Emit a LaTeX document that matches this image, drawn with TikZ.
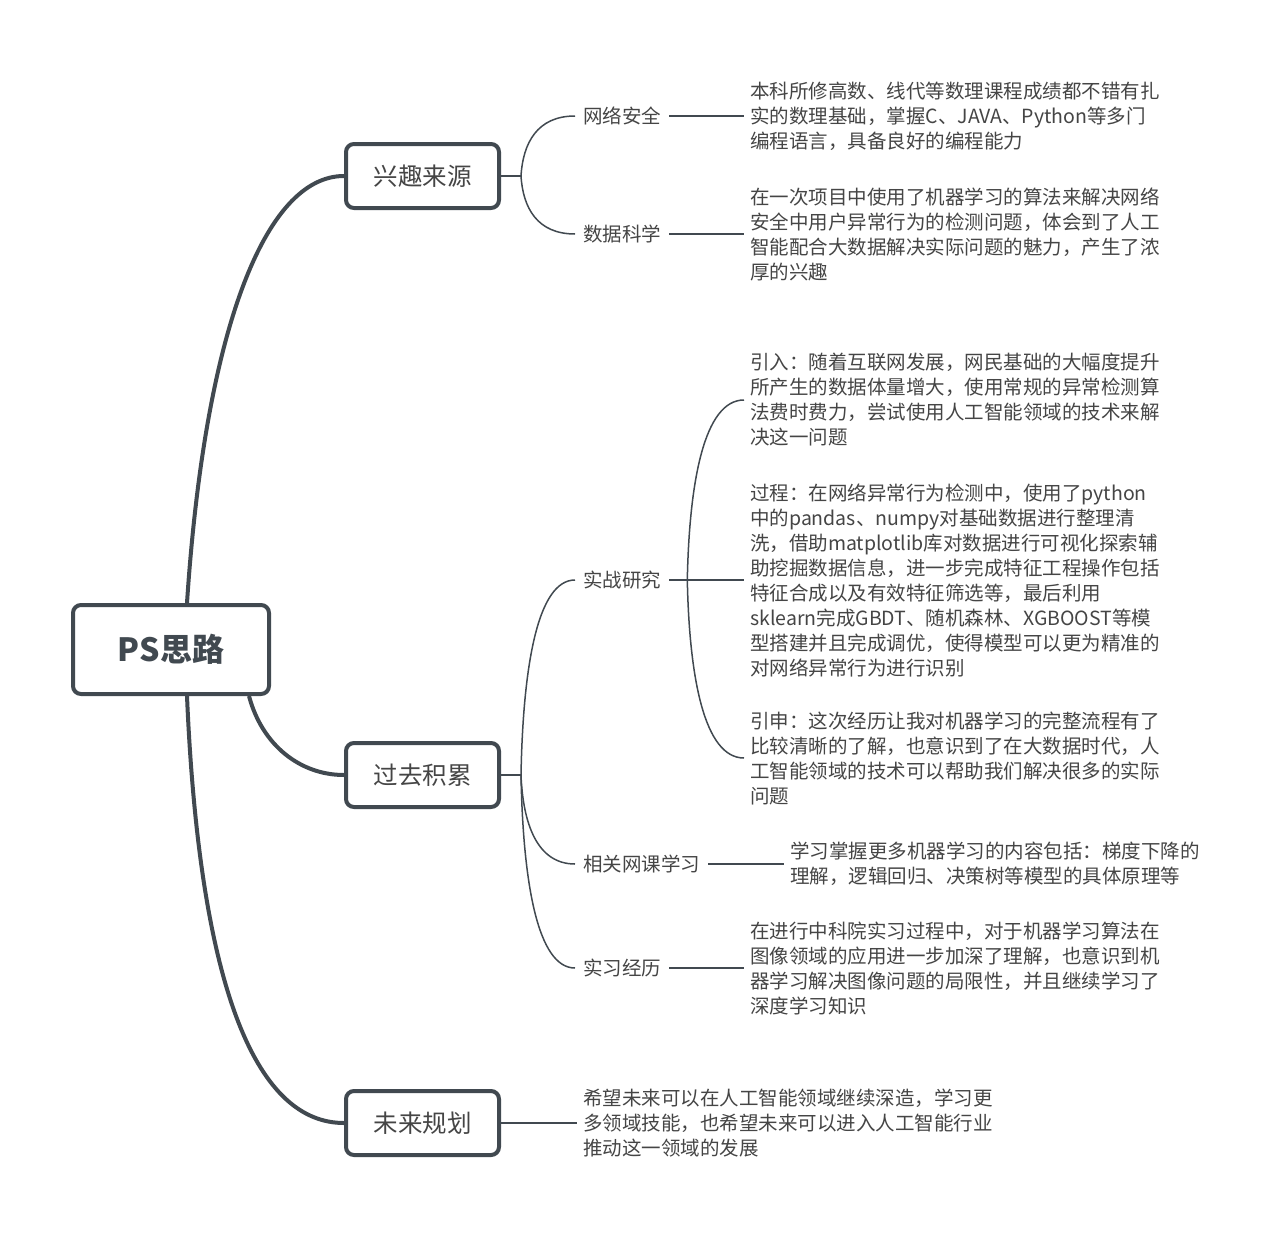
\documentclass[tikz,border=0pt]{standalone}
\usepackage{fontspec}
\setmainfont{Noto Sans CJK SC}
\usetikzlibrary{calc}
\definecolor{ink}{HTML}{414950}
\definecolor{txt}{HTML}{454545}
\newcommand\mmfan[2]{\draw[sublink] let \p1=(#1), \p2=(#2) in (\p1) .. controls (\x1+2pt,{\y1+0.55*(\y2-\y1)}) and ({\x1+0.3*(\x2-\x1)},\y2) .. (\p2);}
\begin{document}
\begin{tikzpicture}[x=1pt,y=-1pt,
  rootbox/.style={draw=ink, line width=4pt, rounded corners=8pt, fill=white, minimum width=196pt, minimum height=89pt, inner sep=0pt, text=ink, font=\fontsize{32}{38}\selectfont\bfseries},
  topicbox/.style={draw=ink, line width=4pt, rounded corners=8pt, fill=white, minimum width=153pt, minimum height=64pt, inner sep=0pt, text=txt, font=\fontsize{24.5}{30}\selectfont},
  sublabel/.style={anchor=west, inner xsep=8pt, inner ysep=0pt, text=txt, font=\fontsize{19.5}{25}\selectfont},
  leaftext/.style={anchor=west, align=left, inner xsep=6pt, inner ysep=0pt, text=txt, font=\fontsize{19.5}{25}\selectfont},
  mainlink/.style={draw=ink, line width=4pt},
  sublink/.style={draw=ink, line width=1.5pt},
]
\useasboundingbox[fill=white] (0,0) rectangle (1280,1239);

% root and topics
\node[rootbox] (r) at (171,649.5) {PS思路};
\node[topicbox] (b1) at (422.5,176) {兴趣来源};
\node[topicbox] (b2) at (422.5,775) {过去积累};
\node[topicbox] (b3) at (422.5,1123) {未来规划};

% sub labels
\node[sublabel] (l11) at (575,116) {网络安全};
\node[sublabel] (l12) at (575,234) {数据科学};
\node[sublabel] (l21) at (575,580) {实战研究};
\node[sublabel] (l22) at (575,864) {相关网课学习};
\node[sublabel] (l23) at (575,968) {实习经历};

% leaf texts
\node[leaftext] (t11) at (744,116) {本科所修高数、线代等数理课程成绩都不错有扎\\实的数理基础，掌握C、JAVA、Python等多门\\编程语言，具备良好的编程能力};
\node[leaftext] (t12) at (744,234) {在一次项目中使用了机器学习的算法来解决网络\\安全中用户异常行为的检测问题，体会到了人工\\智能配合大数据解决实际问题的魅力，产生了浓\\厚的兴趣};
\node[leaftext] (t21) at (744,400) {引入：随着互联网发展，网民基础的大幅度提升\\所产生的数据体量增大，使用常规的异常检测算\\法费时费力，尝试使用人工智能领域的技术来解\\决这一问题};
\node[leaftext] (t22) at (744,580) {过程：在网络异常行为检测中，使用了python\\中的pandas、numpy对基础数据进行整理清\\洗，借助matplotlib库对数据进行可视化探索辅\\助挖掘数据信息，进一步完成特征工程操作包括\\特征合成以及有效特征筛选等，最后利用\\sklearn完成GBDT、随机森林、XGBOOST等模\\型搭建并且完成调优，使得模型可以更为精准的\\对网络异常行为进行识别};
\node[leaftext] (t23) at (744,758) {引申：这次经历让我对机器学习的完整流程有了\\比较清晰的了解，也意识到了在大数据时代，人\\工智能领域的技术可以帮助我们解决很多的实际\\问题};
\node[leaftext] (t3) at (784,864) {学习掌握更多机器学习的内容包括：梯度下降的\\理解，逻辑回归、决策树等模型的具体原理等};
\node[leaftext] (t4) at (744,968) {在进行中科院实习过程中，对于机器学习算法在\\图像领域的应用进一步加深了理解，也意识到机\\器学习解决图像问题的局限性，并且继续学习了\\深度学习知识};
\node[leaftext] (t5) at (577,1123) {希望未来可以在人工智能领域继续深造，学习更\\多领域技能，也希望未来可以进入人工智能行业\\推动这一领域的发展};

% main connectors
\draw[mainlink] ([xshift=16pt]r.north) .. controls (205,330) and (265,176) .. (b1.west);
\draw[mainlink] ([xshift=-22pt]r.south east) .. controls (262,745) and (300,775) .. (b2.west);
\draw[mainlink] ([xshift=16pt]r.south) .. controls (200,1000) and (260,1123) .. (b3.west);

% stubs
\coordinate (s1) at ($(b1.east)+(20,0)$);
\coordinate (s2) at ($(b2.east)+(20,0)$);
\draw[sublink] (b1.east) -- (s1);
\draw[sublink] (b2.east) -- (s2);

% fans
\mmfan{s1}{l11.west}
\mmfan{s1}{l12.west}
\mmfan{s2}{l21.west}
\mmfan{s2}{l22.west}
\mmfan{s2}{l23.west}

% label to text lines
\draw[sublink] (l11.east) -- (t11.west);
\draw[sublink] (l12.east) -- (t12.west);
\draw[sublink] (l21.east) -- (t22.west);
\draw[sublink] (l22.east) -- (t3.west);
\draw[sublink] (l23.east) -- (t4.west);
\draw[sublink] (b3.east) -- (t5.west);

\coordinate (f21) at ($(l21.east)!0.24!(t22.west)$);
\mmfan{f21}{t21.west}
\mmfan{f21}{t23.west}
\end{tikzpicture}
\end{document}
